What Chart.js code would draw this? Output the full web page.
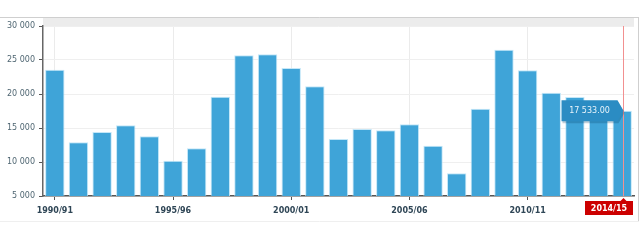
<!DOCTYPE html>
<html><head><meta charset="utf-8">
<script src="https://cdn.jsdelivr.net/npm/chart.js@4/dist/chart.umd.min.js"></script>
<style>html,body{margin:0;padding:0;background:#fff}#wrap{width:640px;height:247px}</style>
</head><body><div id="wrap"><canvas id="c" width="640" height="247"></canvas></div>
<script>
const categories = ['1990/91','1991/92','1992/93','1993/94','1994/95','1995/96','1996/97','1997/98','1998/99','1999/00','2000/01','2001/02','2002/03','2003/04','2004/05','2005/06','2006/07','2007/08','2008/09','2009/10','2010/11','2011/12','2012/13','2013/14','2014/15'];
const values = [23580,12890,14410,15390,13770,10200,12010,19610,25690,25830,23820,21130,13380,14850,14660,15540,12400,8330,17840,26520,23480,20200,19560,18000,17533];
const labeledTicks = ['1990/91','1995/96','2000/01','2005/06','2010/11'];
const yTicks = [5000,10000,15000,20000,25000,30000];
const highlightIndex = 24;

const fmt = v => String(Math.round(v)).replace(/\B(?=(\d{3})+(?!\d))/g,' ');
const isLabeled = i => labeledTicks.includes(categories[i]);

const decor = {
  id:'decor',
  beforeDraw(chart){
    const {ctx, chartArea:a} = chart;
    ctx.save();
    ctx.fillStyle='#ececec';
    ctx.fillRect(a.left, 17, a.right-a.left, a.top-17);
    ctx.strokeStyle='#cfcfcf'; ctx.lineWidth=1;
    ctx.beginPath(); ctx.moveTo(0,17.5); ctx.lineTo(639,17.5); ctx.stroke();
    ctx.beginPath(); ctx.moveTo(638.5,17); ctx.lineTo(638.5,221); ctx.stroke();
    ctx.strokeStyle='#efefef';
    ctx.beginPath(); ctx.moveTo(0,221.5); ctx.lineTo(639,221.5); ctx.stroke();
    ctx.restore();
  },
  afterDraw(chart){
    const {ctx, chartArea:a, scales:{x,y}} = chart;
    const cx = Math.round(x.getPixelForValue(highlightIndex)) + 0.5 + 1;
    const vy = y.getPixelForValue(values[highlightIndex]);
    ctx.save();
    ctx.strokeStyle='#f29090'; ctx.lineWidth=1;
    ctx.beginPath(); ctx.moveTo(cx, a.top); ctx.lineTo(cx, a.bottom); ctx.stroke();
    const tipX = cx, bw = 56, bh = 21, right = tipX - 6, left = right - bw;
    const top = vy - bh/2;
    ctx.fillStyle='rgba(0,60,100,0.25)';
    ctx.beginPath(); ctx.moveTo(left+1,top+2); ctx.lineTo(right+1,top+2); ctx.lineTo(tipX+1,vy+2); ctx.lineTo(right+1,top+bh+2); ctx.lineTo(left+1,top+bh+2); ctx.closePath(); ctx.fill();
    ctx.fillStyle='#2b8cc3';
    ctx.beginPath(); ctx.moveTo(left,top); ctx.lineTo(right,top); ctx.lineTo(tipX,vy); ctx.lineTo(right,top+bh); ctx.lineTo(left,top+bh); ctx.closePath(); ctx.fill();
    ctx.fillStyle='#e8f4fb'; ctx.font='8px "DejaVu Sans"'; ctx.textAlign='center'; ctx.textBaseline='middle';
    ctx.fillText(fmt(values[highlightIndex])+'.00', (left+right)/2, vy+0.5);
    const lw = 48, lh = 14, lr = a.right - 1, ll = lr - lw, lt = a.bottom + 5;
    ctx.fillStyle='#cc0000';
    ctx.fillRect(ll, lt, lw, lh);
    ctx.beginPath(); ctx.moveTo(cx-3, lt); ctx.lineTo(cx, lt-3); ctx.lineTo(cx+3, lt); ctx.closePath(); ctx.fill();
    ctx.fillStyle='#fff'; ctx.font='bold 8px "DejaVu Sans"';
    ctx.fillText(categories[highlightIndex], ll+lw/2, lt+lh/2+0.5);
    ctx.restore();
  }
};

new Chart(document.getElementById('c'), {
  type:'bar',
  data:{labels:categories, datasets:[{data:values, backgroundColor:'#3fa4d8', borderColor:'rgba(190,228,247,0.9)', borderWidth:1, barPercentage:0.82, categoryPercentage:1}]},
  options:{
    responsive:false, animation:false,
    layout:{padding:{top:26, right:6, left:0, bottom:0}},
    plugins:{legend:{display:false}, tooltip:{enabled:false}},
    scales:{
      x:{
        offset:true,
        afterFit(s){ s.height = 51; },
        grid:{offset:false, color:c=>isLabeled(c.index)?'#ebebeb':'rgba(0,0,0,0)', tickColor:c=>isLabeled(c.index)?'#555':'rgba(0,0,0,0)', tickLength:4},
        border:{color:'#555', width:1.5},
        ticks:{autoSkip:false, maxRotation:0, padding:6, color:'#2f4656', font:{family:'DejaVu Sans', size:8, weight:'bold'},
          callback:(v,i)=>isLabeled(i)?categories[i]:''}
      },
      y:{
        min:yTicks[0], max:yTicks[yTicks.length-1],
        afterFit(s){ s.width = 43; },
        afterBuildTicks(s){ s.ticks = yTicks.map(v=>({value:v})); },
        grid:{color:'#efefef', tickColor:'#555', tickLength:4},
        border:{color:'#666', width:1.5},
        ticks:{padding:4, color:'#4f6672', font:{family:'DejaVu Sans', size:8}, callback:v=>fmt(v)}
      }
    }
  },
  plugins:[decor]
});
</script></body></html>
